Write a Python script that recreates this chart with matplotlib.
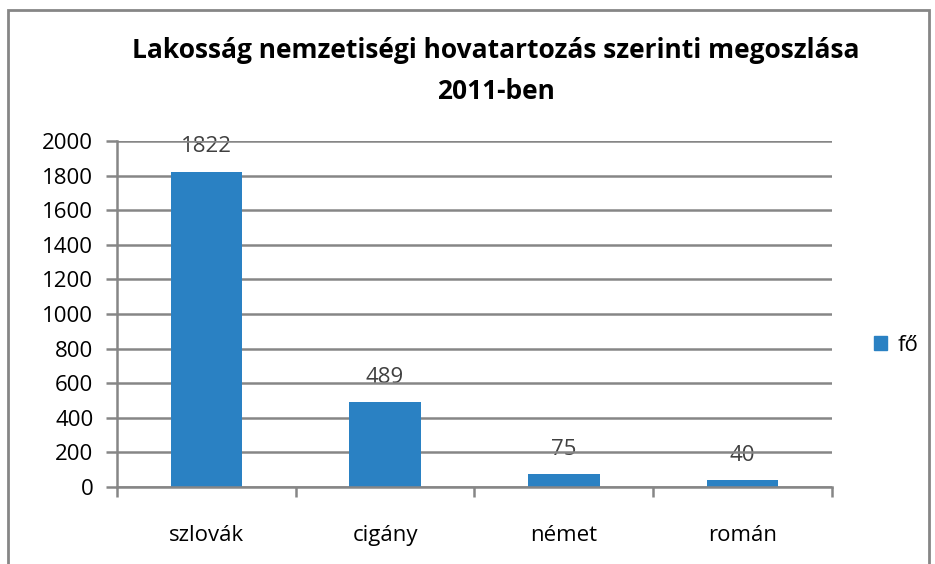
import matplotlib.pyplot as plt
import matplotlib.patches as mpatches
import numpy as np

# adatok
categories = ['szlovák', 'cigány', 'német', 'román']
values = [1822, 489, 75, 40]
series_name = 'fő'
yticks = [0, 200, 400, 600, 800, 1000, 1200, 1400, 1600, 1800, 2000]

plt.rcParams['font.family'] = ['Open Sans', 'DejaVu Sans']

fig = plt.figure(figsize=(9.35, 5.64), dpi=100)
ax = fig.add_axes([0.1251, 0.1365, 0.7647, 0.6135])

x = np.arange(len(categories))
bars = ax.bar(x, values, width=0.4, color='#2a81c3', zorder=3, label=series_name)

for b, v in zip(bars, values):
    ax.annotate(str(v), (b.get_x() + b.get_width() / 2, v), xytext=(0, 18),
                textcoords='offset points', ha='center', va='center',
                fontsize=16, color='#404040', zorder=1)

ax.set_xlim(-0.5, len(categories) - 0.5)
ax.set_ylim(0, 2000)
ax.set_yticks(yticks)
ax.set_yticklabels([str(t) for t in yticks], fontsize=16)
ax.yaxis.grid(True, color='#868686', linewidth=1.8, zorder=2)
ax.set_axisbelow(False)
ax.tick_params(axis='y', length=8, width=1.8, color='#868686', pad=9)

ax.set_xticks(x)
ax.set_xticklabels(categories, fontsize=16)
ax.tick_params(axis='x', length=0, pad=27)
ax.set_xticks(np.arange(-0.5, len(categories)), minor=True)
ax.tick_params(axis='x', which='minor', length=7, width=1.8, color='#868686')

for s in ['top', 'right']:
    ax.spines[s].set_visible(False)
for s in ['left', 'bottom']:
    ax.spines[s].set_color('#868686')
    ax.spines[s].set_linewidth(1.8)
    ax.spines[s].set_zorder(4)

fig.text(0.53, 0.91, 'Lakosság nemzetiségi hovatartozás szerinti megoszlása',
         ha='center', va='center', fontsize=19, fontweight='bold')
fig.text(0.53, 0.837, '2011-ben', ha='center', va='center', fontsize=19,
         fontweight='bold')

handle = mpatches.Patch(color='#2a81c3')
fig.legend([handle], [series_name], loc='center left', bbox_to_anchor=(0.913, 0.388),
           frameon=False, fontsize=16, handlelength=0.6, handleheight=0.6,
           handletextpad=0.5)

# keret
fig.add_artist(mpatches.Rectangle((0.009, -0.05), 0.985, 1.032, transform=fig.transFigure,
                                  fill=False, edgecolor='#868686', linewidth=2))

fig.savefig('out.png', dpi=100)
